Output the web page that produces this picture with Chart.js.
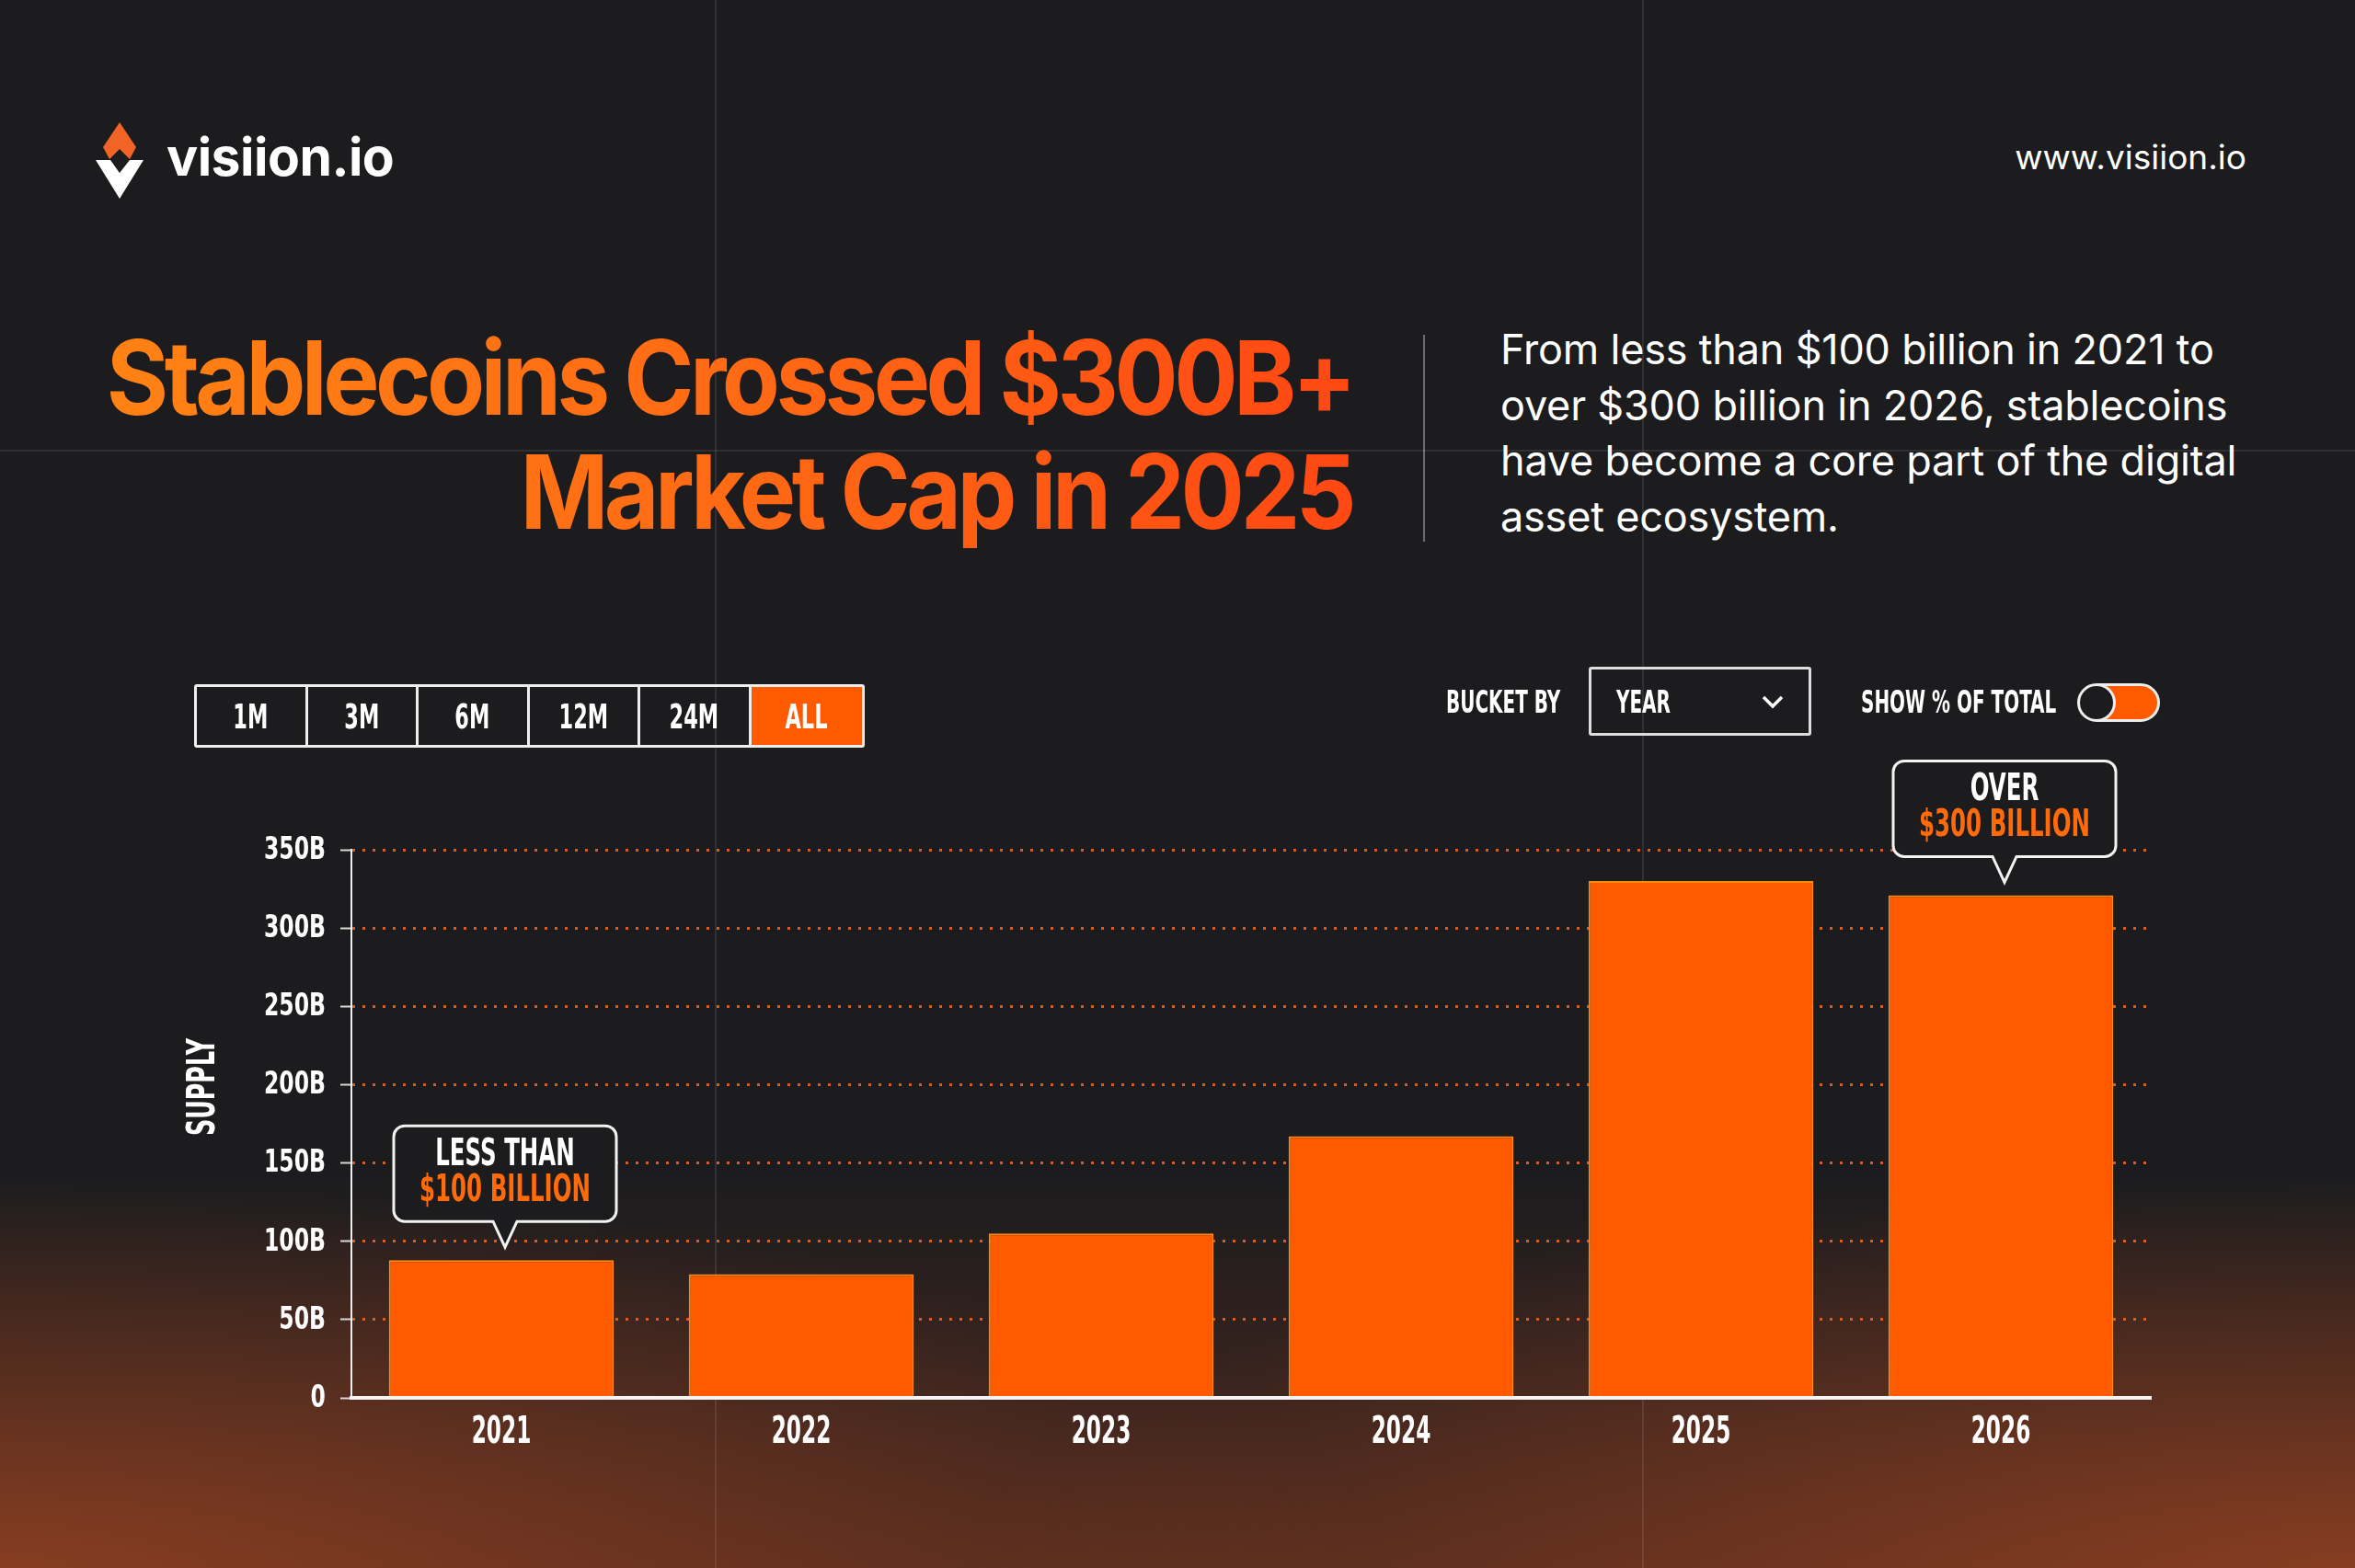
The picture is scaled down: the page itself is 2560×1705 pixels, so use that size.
<!DOCTYPE html>
<html>
<head>
<meta charset="utf-8">
<script src="https://cdn.jsdelivr.net/npm/chart.js@4/dist/chart.umd.min.js"></script>
<style>
  html, body { margin: 0; padding: 0; }
  body { width: 2560px; height: 1705px; overflow: hidden; background: #1b1b1d; }
  #page {
    position: relative; width: 2560px; height: 1705px; overflow: hidden;
    background:
      radial-gradient(ellipse 1500px 420px at 0px 1705px, rgba(190, 80, 35, 0.5), rgba(190, 80, 35, 0) 100%),
      radial-gradient(ellipse 1500px 420px at 2560px 1705px, rgba(190, 80, 35, 0.5), rgba(190, 80, 35, 0) 100%),
      linear-gradient(to bottom, rgba(0,0,0,0) 1280px, rgba(120, 52, 30, 0.55) 1705px),
      #1c1c1e;
    font-family: Inter, 'Noto Sans', sans-serif;
    color: #fff;
  }
  .gridline { position: absolute; background: rgba(255,255,255,0.09); }
  .cond { font-family: 'DejaVu Sans Condensed', 'Liberation Sans', sans-serif; font-weight: 700; }
  .sq { display: inline-block; transform: scale(0.74, 1.15); transform-origin: left center; white-space: nowrap; }
  #logoText { position: absolute; left: 181px; top: 136px; font-size: 57px; font-weight: 700; letter-spacing: -0.5px; }
  #site { position: absolute; right: 118px; top: 148px; font-size: 37px; font-weight: 400; }
  #title {
    position: absolute; right: 1090px; top: 348px; text-align: right; white-space: nowrap;
    font-size: 112px; line-height: 124px; font-weight: 700; letter-spacing: -5px;
    transform: scaleX(0.92); transform-origin: right center;
    background: linear-gradient(to right, #ff8214 0%, #ff6a14 50%, #ff4813 100%);
    -webkit-background-clip: text; background-clip: text; color: transparent;
  }
  #divider { position: absolute; left: 1547px; top: 364px; width: 2px; height: 225px; background: rgba(255,255,255,0.35); }
  #blurb { position: absolute; left: 1631px; top: 350px; font-size: 45px; line-height: 60.5px; font-weight: 400; letter-spacing: -0.2px; white-space: nowrap; }
  #ranges { position: absolute; left: 211px; top: 744px; height: 69px; display: flex; border: 3px solid #eee; box-sizing: border-box; border-radius: 3px; }
  #ranges div { width: 120.5px; height: 63px; box-sizing: border-box; border-right: 3px solid #eee; display: flex; align-items: center; justify-content: center; font-size: 32px; color: #fff; }
  #ranges div span { display: inline-block; transform: scale(0.78, 1.15); }
  #ranges div:last-child { border-right: none; background: #ff5a00; }
  .lbl { position: absolute; font-size: 30px; color: #fff; }
  #dropdown { position: absolute; left: 1727px; top: 725px; width: 242px; height: 75px; box-sizing: border-box; border: 3px solid #ddd; border-radius: 3px; }
  #dropdown .sq { position: absolute; left: 27px; top: 17px; font-size: 30px; }
  #dropdown svg { position: absolute; right: 26px; top: 25px; }
  #toggle { position: absolute; left: 2258px; top: 743px; width: 90px; height: 42px; box-sizing: border-box; border: 3px solid #eee; border-radius: 21px; background: #ff5a00; overflow: hidden; }
  #toggle .knob { position: absolute; left: -3px; top: -3px; width: 42px; height: 42px; box-sizing: border-box; border: 3px solid #eee; border-radius: 50%; background: #1c1c1e; }
  #chartBox { position: absolute; left: 196px; top: 780px; width: 2200px; height: 840px; }
</style>
</head>
<body>
<div id="page">
  <div class="gridline" style="left:777px;top:0;width:2px;height:1705px"></div>
  <div class="gridline" style="left:1785px;top:0;width:2px;height:1705px"></div>
  <div class="gridline" style="left:0;top:489px;width:2560px;height:2px"></div>

  <svg style="position:absolute;left:100px;top:130px" width="60" height="90" viewBox="100 130 60 90">
    <polygon points="130,133 148,160 141,173 130,162 119,173 112,160" fill="#f26426"/>
    <polygon points="104,174 120,174 130,188 141,174 156,174 130,216" fill="#ffffff"/>
  </svg>
  <div id="logoText">visiion.io</div>
  <div id="site">www.visiion.io</div>

  <div id="title">Stablecoins Crossed $300B+<br>Market Cap in 2025</div>
  <div id="divider"></div>
  <div id="blurb">From less than $100 billion in 2021 to<br>over $300 billion in 2026, stablecoins<br>have become a core part of the digital<br>asset ecosystem.</div>

  <div id="ranges" class="cond">
    <div><span>1M</span></div><div><span>3M</span></div><div><span>6M</span></div>
    <div><span>12M</span></div><div><span>24M</span></div><div><span>ALL</span></div>
  </div>
  <div class="lbl cond" style="left:1572px;top:745px"><span class="sq">BUCKET BY</span></div>
  <div id="dropdown" class="cond">
    <span class="sq">YEAR</span>
    <svg width="26" height="20" viewBox="0 0 26 20"><polyline points="3,5 13,15 23,5" fill="none" stroke="#fff" stroke-width="3.5"/></svg>
  </div>
  <div class="lbl cond" style="left:2023px;top:745px"><span class="sq">SHOW % OF TOTAL</span></div>
  <div id="toggle"><div class="knob"></div></div>

  <div id="chartBox"><canvas id="supplyChart"></canvas></div>
</div>

<script>
// datos del gráfico (supply en miles de millones)
const years = ['2021', '2022', '2023', '2024', '2025', '2026']
const supply = [88, 79, 105, 167, 330, 321]
const yTicks = [0, 50, 100, 150, 200, 250, 300, 350]
const yTitle = 'SUPPLY'

// globos de texto sobre las barras
const calloutBars = [0, 5]
const calloutTop = ['LESS THAN', 'OVER']
const calloutBottom = ['$100 BILLION', '$300 BILLION']

const ORANGE = '#ff5a00'
const COND = "'DejaVu Sans Condensed', 'Liberation Sans', sans-serif"

// texto condensado (la fuente original es más estrecha)
function drawCond(ctx, text, x, y, size, sx, sy, align, color, angle = 0) {
    ctx.save()
    ctx.translate(x, y)
    if (angle) ctx.rotate(angle)
    ctx.scale(sx, sy)
    ctx.font = `bold ${size}px ${COND}`
    ctx.textAlign = align
    ctx.textBaseline = 'middle'
    ctx.fillStyle = color
    ctx.fillText(text, 0, 0)
    ctx.restore()
}

// Etiquetas de los ejes, usando las escalas del gráfico
const axisLabelPlugin = {
    id: 'axisLabels',
    afterDraw(chart) {
        const ctx = chart.ctx
        const { x, y } = chart.scales
        yTicks.forEach(v => {
            const label = v === 0 ? '0' : `${v}B`
            drawCond(ctx, label, y.right - 28, y.getPixelForValue(v) + 1, 34, 0.77, 1, 'right', '#ffffff')
        })
        years.forEach((yr, i) => {
            drawCond(ctx, yr, x.getPixelForTick(i), x.top + 38, 41, 0.63, 1, 'center', '#ffffff')
        })
        const midY = (y.top + y.bottom) / 2 - 40
        drawCond(ctx, yTitle, y.left + 26, midY, 42, 0.67, 1, 'center', '#ffffff', -Math.PI / 2)
    },
}

// Plugin para dibujar los globos
const calloutPlugin = {
    id: 'callouts',
    afterDatasetsDraw(chart) {
        const ctx = chart.ctx
        const meta = chart.getDatasetMeta(0)
        calloutBars.forEach((idx, i) => {
            const bar = meta.data[idx]
            const w = 242
            const h = 104
            const tipY = bar.y - 14
            const bottom = tipY - 28
            const top = bottom - h
            const cx = bar.x + 4
            const left = cx - w / 2
            const r = 12

            ctx.save()
            ctx.beginPath()
            ctx.moveTo(left + r, top)
            ctx.lineTo(left + w - r, top)
            ctx.arcTo(left + w, top, left + w, top + r, r)
            ctx.lineTo(left + w, bottom - r)
            ctx.arcTo(left + w, bottom, left + w - r, bottom, r)
            ctx.lineTo(cx + 13, bottom)
            ctx.lineTo(cx, tipY)
            ctx.lineTo(cx - 13, bottom)
            ctx.lineTo(left + r, bottom)
            ctx.arcTo(left, bottom, left, bottom - r, r)
            ctx.lineTo(left, top + r)
            ctx.arcTo(left, top, left + r, top, r)
            ctx.closePath()
            ctx.fillStyle = '#1c1c1e'
            ctx.fill()
            ctx.lineWidth = 3
            ctx.strokeStyle = '#f2f2f2'
            ctx.stroke()
            ctx.restore()

            drawCond(ctx, calloutTop[i], cx, top + 32, 34, 0.8, 1.22, 'center', '#ffffff')
            drawCond(ctx, calloutBottom[i], cx, top + 71, 34, 0.8, 1.22, 'center', '#ff6a0a')
        })
    },
}

const ctx = document.getElementById('supplyChart')

// eslint-disable-next-line no-new, no-undef
new Chart(ctx, {
    type: 'bar',
    data: {
        labels: years,
        datasets: [
            {
                label: 'Supply',
                data: supply,
                backgroundColor: ORANGE,
                borderColor: '#ff8a10',
                borderWidth: 2,
                borderSkipped: 'bottom',
                barPercentage: 0.75,
                categoryPercentage: 1,
            },
        ],
    },
    options: {
        responsive: true,
        maintainAspectRatio: false,
        animation: false,
        layout: { padding: { top: 144, right: 58, bottom: 0, left: 0 } },
        plugins: {
            legend: { display: false },
            tooltip: { enabled: false },
        },
        scales: {
            x: {
                grid: { display: false, drawTicks: false },
                border: { display: true, color: '#f4f4f4', width: 4, z: 2 },
                ticks: { display: false },
                afterFit: scale => { scale.height = 100 },
            },
            y: {
                min: 0,
                max: 350,
                afterBuildTicks: scale => {
                    scale.ticks = yTicks.map(v => ({ value: v }))
                },
                afterFit: scale => { scale.width = 186 },
                grid: {
                    color: 'rgba(240, 100, 30, 0.9)',
                    lineWidth: 3,
                    tickColor: '#d8d8d8',
                    tickLength: 12,
                    tickWidth: 2,
                },
                border: { display: true, color: '#eeeeee', width: 2, dash: [3, 8] },
                ticks: { display: false },
            },
        },
    },
    plugins: [calloutPlugin, axisLabelPlugin],
})
</script>
</body>
</html>
